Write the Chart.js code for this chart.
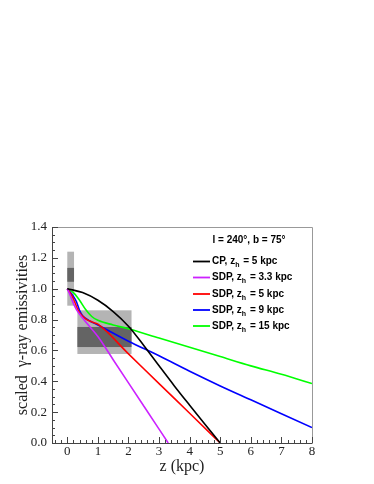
<!DOCTYPE html>
<html>
<head>
<meta charset="utf-8">
<script src="https://cdn.jsdelivr.net/npm/chart.js@4.4.0/dist/chart.umd.min.js"></script>
<style>
  html, body { margin: 0; padding: 0; background: #fff; }
  #wrap { width: 374px; height: 484px; }
</style>
</head>
<body>
<div id="wrap"><canvas id="chart" width="374" height="484"></canvas></div>
<script>
// curves: z (kpc) and scaled emissivity
const zCP = [0, 0.5, 1, 1.5, 2, 2.5, 3, 3.5, 4, 4.5, 5];
const vCP = [1, 0.975, 0.925, 0.852, 0.757, 0.632, 0.5, 0.37, 0.245, 0.122, 0];
const zSDP33 = [0, 0.1, 0.2, 0.3, 0.5, 0.75, 1, 1.5, 2, 2.5, 3, 3.3];
const vSDP33 = [1, 0.955, 0.905, 0.865, 0.81, 0.75, 0.69, 0.54, 0.39, 0.24, 0.09, 0];
const zSDP5 = [0, 0.1, 0.2, 0.3, 0.4, 0.6, 0.8, 1, 2, 3, 4, 5];
const vSDP5 = [1, 0.97, 0.935, 0.885, 0.845, 0.805, 0.785, 0.77, 0.578, 0.385, 0.193, 0];
const zSDP9 = [0, 0.1, 0.2, 0.3, 0.4, 0.5, 0.7, 1, 2, 3, 4, 5, 6, 7, 8];
const vSDP9 = [1, 0.975, 0.95, 0.915, 0.86, 0.825, 0.795, 0.765, 0.66, 0.565, 0.465, 0.37, 0.28, 0.19, 0.1];
const zSDP15 = [0, 0.2, 0.4, 0.6, 0.8, 1, 1.5, 2, 3, 4, 5, 6, 7, 8];
const vSDP15 = [1, 0.975, 0.925, 0.865, 0.82, 0.795, 0.765, 0.74, 0.68, 0.62, 0.56, 0.5, 0.445, 0.385];

const seriesNames = ['CP', 'SDP', 'SDP', 'SDP', 'SDP'];
const seriesZh = ['5', '3.3', '5', '9', '15'];
const seriesColors = ['#000000', '#cc22ff', '#ff0000', '#0000ff', '#00ff00'];

// measured bands: [zMin, zMax, vMin, vMax]
const bandsLight = [[0.0, 0.22, 0.89, 1.24], [0.33, 2.1, 0.577, 0.86]];
const bandsDark = [[0.0, 0.22, 1.045, 1.135], [0.33, 2.1, 0.622, 0.752]];

const xTickLabels = [0, 1, 2, 3, 4, 5, 6, 7, 8];
const yTickLabels = [0, 0.2, 0.4, 0.6, 0.8, 1.0, 1.2, 1.4];
const legendTitle = 'l = 240°, b = 75°';

const curves = [[zCP, vCP], [zSDP33, vSDP33], [zSDP5, vSDP5], [zSDP9, vSDP9], [zSDP15, vSDP15]];

const datasets = curves.map((c, i) => ({
  label: seriesNames[i] + ', zh = ' + seriesZh[i] + ' kpc',
  data: c[0].map((z, j) => ({ x: z, y: c[1][j] })),
  borderColor: seriesColors[i],
  borderWidth: 1.6,
  pointRadius: 0,
  fill: false,
  cubicInterpolationMode: 'monotone'
}));

const bandsPlugin = {
  id: 'bands',
  beforeDatasetsDraw(chart) {
    const { ctx, scales: { x, y } } = chart;
    ctx.save();
    const drawBand = (b, color) => {
      const x0 = x.getPixelForValue(b[0]);
      const x1 = x.getPixelForValue(b[1]);
      const y0 = y.getPixelForValue(b[3]);
      const y1 = y.getPixelForValue(b[2]);
      ctx.fillStyle = color;
      ctx.fillRect(x0, y0, x1 - x0, y1 - y0);
    };
    bandsLight.forEach(b => drawBand(b, '#b4b4b4'));
    bandsDark.forEach(b => drawBand(b, '#646464'));
    ctx.restore();
  }
};

const framePlugin = {
  id: 'frame',
  afterDatasetsDraw(chart) {
    const { ctx, chartArea: a, scales: { x, y } } = chart;
    ctx.save();
    ctx.lineWidth = 1;
    // top and right
    ctx.strokeStyle = '#999';
    ctx.beginPath();
    ctx.moveTo(a.left, a.top + 0.5);
    ctx.lineTo(a.right + 0.5, a.top + 0.5);
    ctx.lineTo(a.right + 0.5, a.bottom);
    ctx.stroke();
    // left and bottom
    ctx.strokeStyle = '#444';
    ctx.beginPath();
    ctx.moveTo(a.left + 0.5, a.top);
    ctx.lineTo(a.left + 0.5, a.bottom + 0.5);
    ctx.lineTo(a.right + 0.5, a.bottom + 0.5);
    ctx.stroke();
    // ticks pointing inward
    ctx.beginPath();
    for (let i = -4; i <= 40; i++) {
      const v = i * 0.2;
      if (v < x.min - 1e-6 || v > x.max + 1e-6) continue;
      const px = Math.round(x.getPixelForValue(v)) + 0.5;
      const len = (i % 5 === 0) ? 6 : 3;
      ctx.moveTo(px, a.bottom);
      ctx.lineTo(px, a.bottom - len);
    }
    for (let i = 0; i <= 28; i++) {
      const v = i * 0.05;
      const py = Math.round(y.getPixelForValue(v)) + 0.5;
      const len = (i % 4 === 0) ? 6 : 3;
      ctx.moveTo(a.left, py);
      ctx.lineTo(a.left + len, py);
    }
    ctx.stroke();
    ctx.restore();
  }
};

const legendPlugin = {
  id: 'customLegend',
  afterDraw(chart) {
    const { ctx } = chart;
    ctx.save();
    ctx.font = 'bold 10px "Liberation Sans", Arial, sans-serif';
    ctx.fillStyle = '#000';
    ctx.textBaseline = 'middle';
    ctx.textAlign = 'center';
    ctx.fillText(legendTitle, 249, 240);
    ctx.textAlign = 'left';
    const rows = [261.5, 277.5, 294, 310, 326];
    seriesNames.forEach((name, i) => {
      const yy = rows[i];
      ctx.strokeStyle = seriesColors[i];
      ctx.lineWidth = 1.8;
      ctx.beginPath();
      ctx.moveTo(193, yy);
      ctx.lineTo(210, yy);
      ctx.stroke();
      let tx = 212;
      ctx.font = 'bold 10px "Liberation Sans", Arial, sans-serif';
      const part1 = name + ', z';
      ctx.fillText(part1, tx, yy);
      tx += ctx.measureText(part1).width;
      ctx.font = 'bold 7px "Liberation Sans", Arial, sans-serif';
      ctx.fillText('h', tx, yy + 4);
      tx += ctx.measureText('h').width + 1;
      ctx.font = 'bold 10px "Liberation Sans", Arial, sans-serif';
      ctx.fillText(' = ' + seriesZh[i] + ' kpc', tx, yy);
    });
    ctx.restore();
  }
};

new Chart(document.getElementById('chart').getContext('2d'), {
  type: 'line',
  data: { datasets },
  options: {
    responsive: false,
    animation: false,
    layout: { padding: { left: 13, top: 227, right: 62, bottom: 8 } },
    plugins: { legend: { display: false }, tooltip: { enabled: false } },
    scales: {
      x: {
        type: 'linear',
        min: -0.5,
        max: 8,
        afterBuildTicks: s => { s.ticks = xTickLabels.map(v => ({ value: v })); },
        afterFit: s => { s.height = 33; },
        grid: { display: false, drawTicks: false },
        border: { display: false },
        ticks: {
          color: '#222',
          padding: 1,
          maxRotation: 0,
          font: { family: '"Liberation Serif", "Times New Roman", serif', size: 13 },
          callback: v => String(v)
        },
        title: {
          display: true,
          text: 'z (kpc)',
          color: '#222',
          padding: 0,
          font: { family: '"Liberation Serif", "Times New Roman", serif', size: 16, lineHeight: 1.2 }
        }
      },
      y: {
        min: 0,
        max: 1.4,
        afterBuildTicks: s => { s.ticks = yTickLabels.map(v => ({ value: v })); },
        afterFit: s => { s.width = 39; },
        grid: { display: false, drawTicks: false },
        border: { display: false },
        ticks: {
          color: '#222',
          padding: 5,
          font: { family: '"Liberation Serif", "Times New Roman", serif', size: 13 },
          callback: v => Number(v).toFixed(1)
        },
        title: {
          display: true,
          text: 'scaled  γ-ray emissivities',
          color: '#222',
          padding: 0,
          font: { family: '"Liberation Serif", "Times New Roman", serif', size: 16, lineHeight: 1.2 }
        }
      }
    }
  },
  plugins: [bandsPlugin, framePlugin, legendPlugin]
});
</script>
</body>
</html>
